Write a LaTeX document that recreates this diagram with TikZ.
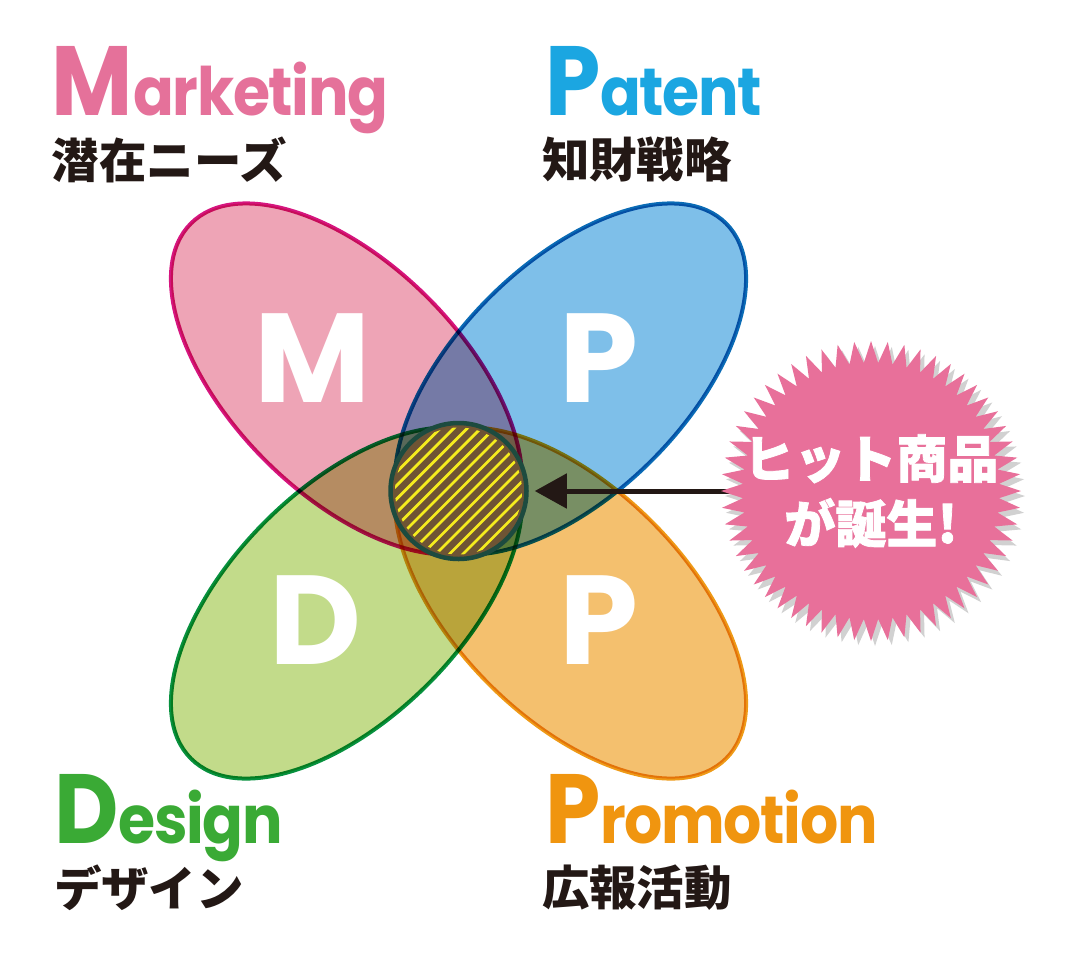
\documentclass[tikz,border=0pt]{standalone}
\usepackage{fontspec}
\usetikzlibrary{shapes.geometric,arrows.meta,shadows}
\newfontfamily\headfont{Poppins}
\newfontfamily\headnarrow{Poppins}[FakeStretch=0.9, LetterSpace=-2]
\newfontfamily\jpfont{Noto Sans CJK JP}
\newfontfamily\jpheavy{Noto Sans CJK JP}[FakeBold=1.5]

\definecolor{ink}{HTML}{231815}
\definecolor{mkttext}{HTML}{E5719A}
\definecolor{pattext}{HTML}{1BA6E1}
\definecolor{destext}{HTML}{3AAA35}
\definecolor{protext}{HTML}{F0950F}
\definecolor{pinkfill}{HTML}{EEA4B6}
\definecolor{pinkline}{HTML}{D6157F}
\definecolor{bluefill}{HTML}{7EBFE9}
\definecolor{blueline}{HTML}{0A6BB5}
\definecolor{greenfill}{HTML}{C2DB8A}
\definecolor{greenline}{HTML}{07913E}
\definecolor{orangefill}{HTML}{F4C06E}
\definecolor{orangeline}{HTML}{EE9A17}
\definecolor{hitfill}{HTML}{6E5434}
\definecolor{hitline}{HTML}{1D4B3F}
\definecolor{hatchyellow}{HTML}{F5EC1E}
\definecolor{burstpink}{HTML}{E8709A}

\tikzset{every picture/.style={line width=0.04cm}}
\tikzset{
  petal/.style={ellipse, minimum width=4.4cm, minimum height=2.3cm, inner sep=0pt},
  bigletter/.style={text=white, inner sep=0pt, font=\headfont\bfseries\fontsize{36}{36}\selectfont},
  heading/.style={anchor=base west, inner sep=0pt, font=\headnarrow\bfseries},
  subtitle/.style={anchor=west, inner sep=0pt, text=ink, font=\jpfont\bfseries\fontsize{13.5}{13.5}\selectfont},
  hatchline/.style={draw=hatchyellow, line width=0.028cm},
  arrowline/.style={draw=ink, line width=0.05cm, -{Triangle[length=0.32cm,width=0.34cm]}, shorten <=1.34cm, shorten >=0.06cm}
}
\newcommand{\headword}[2]{{\fontsize{28}{28}\selectfont #1}{\fontsize{19}{19}\selectfont #2}}

\begin{document}
\begin{tikzpicture}
	\useasboundingbox (0,0) rectangle (10.8,9.6);
	\begin{scope}[blend mode=multiply]
		\node[petal, rotate=-45, fill=pinkfill, draw=pinkline] (mkt) at (3.465,5.81) {};
		\node[petal, rotate=45, fill=bluefill, draw=blueline] (pat) at (5.705,5.81) {};
		\node[petal, rotate=45, fill=greenfill, draw=greenline] (des) at (3.465,3.57) {};
		\node[petal, rotate=-45, fill=orangefill, draw=orangeline] (pro) at (5.705,3.57) {};
	\end{scope}
	\node[bigletter] (mltr) at (3.13,6.02) {M};
	\node[bigletter] (pltr) at (5.99,6.02) {P};
	\node[bigletter] (dltr) at (3.15,3.40) {D};
	\node[bigletter] (rltr) at (5.99,3.40) {P};
	\node[circle, minimum size=1.36cm, inner sep=0pt, fill=hitfill, draw=hitline, line width=0.045cm,
		path picture={
			\clip (path picture bounding box.center) circle (0.635);
			\foreach \k in {-7,...,7}
				\draw[hatchline] ([shift={(\k*0.135-0.9,-0.9)}]path picture bounding box.center) -- ++(1.8,1.8);
		}] (hit) at (4.585,4.69) {};
	\coordinate (burstc) at (8.71,4.69);
	\draw[arrowline] (burstc) -- (hit.east);
	\node[star, star points=56, star point ratio=1.17, minimum size=3cm, inner sep=0pt, fill=burstpink,
		drop shadow={shadow xshift=0.04cm, shadow yshift=-0.05cm, opacity=0.18, fill=black}] (burst) at (burstc) {};
	\node[text=white, align=center, inner sep=0pt, font=\jpheavy\bfseries\fontsize{14.5}{18.5}\selectfont] (bursttext) at (burst.center) {ヒット商品\\が誕生!};
	\node[heading, text=mkttext] (mkthead) at (0.50,8.45) {\headword{M}{arketing}};
	\node[subtitle] (mktsub) at (0.50,8.00) {潜在ニーズ};
	\node[heading, text=pattext] (pathead) at (5.43,8.45) {\headword{P}{atent}};
	\node[subtitle] (patsub) at (5.40,8.00) {知財戦略};
	\node[heading, text=destext] (deshead) at (0.52,1.17) {\headword{D}{esign}};
	\node[subtitle] (dessub) at (0.52,0.72) {デザイン};
	\node[heading, text=protext] (prohead) at (5.43,1.17) {\headword{P}{romotion}};
	\node[subtitle] (prosub) at (5.40,0.72) {広報活動};
\end{tikzpicture}
\end{document}
